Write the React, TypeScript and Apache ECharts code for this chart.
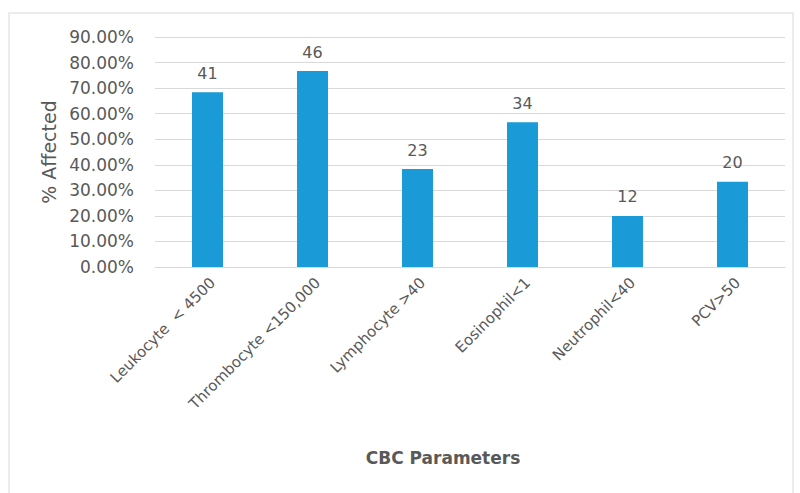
import React, { useEffect, useRef } from "react";
import * as echarts from "echarts";

// CBC parameter categories and the number of affected patients in each
const categories = [
  "Leukocyte  < 4500",
  "Thrombocyte <150,000",
  "Lymphocyte >40",
  "Eosinophil<1",
  "Neutrophil<40",
  "PCV>50",
];
const affectedCounts = [41, 46, 23, 34, 12, 20];
const totalPatients = 60;

// Y axis runs from 0% to 90% in 10% steps
const yMin = 0;
const yMax = 0.9;
const yStep = 0.1;

const xTitle = "CBC Parameters";
const yTitle = "% Affected";

const FONT = "DejaVu Sans";
const TEXT = "#595959";

export default function App() {
  const ref = useRef<HTMLDivElement>(null);

  useEffect(() => {
    if (!ref.current) return;
    const chart = echarts.init(ref.current, undefined, { renderer: "svg" });
    const shares = affectedCounts.map((c) => c / totalPatients);

    chart.setOption({
      animation: false,
      backgroundColor: "#ffffff",
      textStyle: { fontFamily: FONT },
      graphic: [
        {
          type: "rect",
          silent: true,
          shape: { x: 9, y: 13, width: 784, height: 490 },
          style: { fill: "none", stroke: "#e6e6e6", lineWidth: 1.5 },
        },
        {
          type: "text",
          silent: true,
          x: 443,
          y: 458,
          style: {
            text: xTitle,
            align: "center",
            verticalAlign: "middle",
            fill: TEXT,
            fontFamily: FONT,
            fontSize: 17,
            fontWeight: "bold",
          },
        },
      ],
      grid: { left: 155, right: 15, top: 37, bottom: 226 },
      xAxis: {
        type: "category",
        data: categories,
        axisTick: { show: false },
        axisLine: { lineStyle: { color: "#d9d9d9", width: 1 } },
        axisLabel: {
          rotate: 45,
          interval: 0,
          margin: 8,
          verticalAlign: "top",
          color: TEXT,
          fontFamily: FONT,
          fontSize: 15,
        },
      },
      yAxis: {
        type: "value",
        min: yMin,
        max: yMax,
        interval: yStep,
        axisLine: { show: false },
        axisTick: { show: false },
        splitLine: { lineStyle: { color: "#d9d9d9", width: 1 } },
        axisLabel: {
          margin: 21,
          color: TEXT,
          fontFamily: FONT,
          fontSize: 17,
          formatter: (v: number) => (v * 100).toFixed(2) + "%",
        },
        name: yTitle,
        nameLocation: "middle",
        nameGap: 94,
        nameTextStyle: { color: TEXT, fontFamily: FONT, fontSize: 19 },
      },
      series: [
        {
          type: "bar",
          data: shares,
          barWidth: "29.5%",
          itemStyle: { color: "#1a9ad6" },
          label: {
            show: true,
            position: "top",
            distance: 11,
            color: TEXT,
            fontFamily: FONT,
            fontSize: 16,
            formatter: (p: { dataIndex: number }) =>
              String(affectedCounts[p.dataIndex]),
          },
        },
      ],
    });

    return () => chart.dispose();
  }, []);

  return (
    <div
      ref={ref}
      style={{ position: "fixed", left: 0, top: 0, width: 800, height: 493 }}
    />
  );
}
